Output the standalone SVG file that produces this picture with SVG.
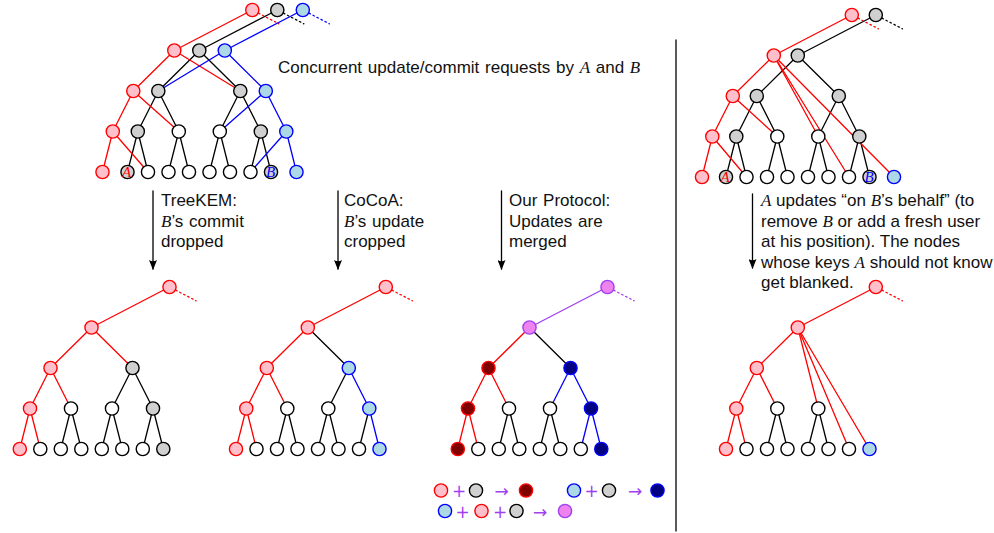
<svg xmlns="http://www.w3.org/2000/svg" width="994" height="533" viewBox="0 0 994 533">
<style>
  .e{fill:none;stroke-width:1.3;stroke-linecap:round}
  .k{stroke:#000}.r{stroke:#f00}.b{stroke:#00f}.v{stroke:#a040f0}
  .d{stroke-dasharray:1.5 3}
  circle{stroke-width:1.4}
  .pk circle{fill:#ffc0cb;stroke:#f00}
  .lb circle{fill:#add8e6;stroke:#00f}
  .gr circle{fill:#d0d0d0;stroke:#000}
  .wh circle{fill:#fff;stroke:#000}
  .dr circle{fill:#800000;stroke:#f00}
  .nv circle{fill:#000080;stroke:#00f}
  .vi circle{fill:#ee82ee;stroke:#a040f0}
  .t{font-family:"Liberation Sans",Arial,sans-serif;font-size:17px;fill:#111;word-spacing:1px}
  .t .tight{word-spacing:0}
  .m{font-family:"Liberation Serif","Times New Roman",serif;font-style:italic}
  .op{font-family:"DejaVu Sans","Liberation Sans",sans-serif;font-size:17px;fill:#a040f0;text-anchor:middle}
  .lbl{font-family:"Liberation Serif","Times New Roman",serif;font-style:italic;font-size:15px;text-anchor:middle}
</style>
<defs>
  <marker id="arr" viewBox="0 0 10 8" refX="9" refY="4" markerWidth="10" markerHeight="8" markerUnits="userSpaceOnUse" orient="auto">
    <path d="M0,0 L10,4 L0,8 Q2.5,4 0,0 z" fill="#000"/>
  </marker>
</defs>

<!-- connectors -->
<g id="connectors">
  <!-- top-left: concurrent requests -->
  <g class="e k">
    <line x1="277.3" y1="10" x2="199.3" y2="50.5"/>
    <line x1="199.3" y1="50.5" x2="158.3" y2="91"/>
    <line x1="199.3" y1="50.5" x2="240.3" y2="91"/>
    <line x1="158.3" y1="91" x2="137.8" y2="131.5"/>
    <line x1="158.3" y1="91" x2="178.8" y2="131.5"/>
    <line x1="240.3" y1="91" x2="219.8" y2="131.5"/>
    <line x1="240.3" y1="91" x2="260.8" y2="131.5"/>
    <line x1="137.8" y1="131.5" x2="127.5" y2="172"/>
    <line x1="137.8" y1="131.5" x2="148" y2="172"/>
    <line x1="178.8" y1="131.5" x2="168.5" y2="172"/>
    <line x1="178.8" y1="131.5" x2="189" y2="172"/>
    <line x1="219.8" y1="131.5" x2="209.5" y2="172"/>
    <line x1="219.8" y1="131.5" x2="230" y2="172"/>
    <line x1="260.8" y1="131.5" x2="250.5" y2="172"/>
    <line x1="260.8" y1="131.5" x2="271" y2="172"/>
    <line class="d" x1="283.5" y1="13.2" x2="303.9" y2="23.8"/>
  </g>
  <g class="e r">
    <line x1="102.5" y1="172" x2="112.8" y2="131.5"/>
    <line x1="112.8" y1="131.5" x2="148" y2="172"/>
    <line x1="112.8" y1="131.5" x2="133.3" y2="91"/>
    <line x1="133.3" y1="91" x2="178.8" y2="131.5"/>
    <line x1="133.3" y1="91" x2="174.3" y2="50.5"/>
    <line x1="174.3" y1="50.5" x2="240.3" y2="91"/>
    <line x1="174.3" y1="50.5" x2="252.3" y2="10"/>
    <line class="d" x1="258.5" y1="13.2" x2="278.9" y2="23.8"/>
  </g>
  <g class="e b">
    <line x1="296.5" y1="172" x2="286.3" y2="131.5"/>
    <line x1="286.3" y1="131.5" x2="250.5" y2="172"/>
    <line x1="286.3" y1="131.5" x2="265.8" y2="91"/>
    <line x1="265.8" y1="91" x2="219.8" y2="131.5"/>
    <line x1="265.8" y1="91" x2="224.8" y2="50.5"/>
    <line x1="224.8" y1="50.5" x2="158.3" y2="91"/>
    <line x1="224.8" y1="50.5" x2="302.8" y2="10"/>
    <line class="d" x1="309" y1="13.2" x2="329.4" y2="23.8"/>
  </g>

  <!-- top-right: update on B's behalf -->
  <g class="e k">
    <line x1="875.8" y1="15" x2="797.8" y2="55.5"/>
    <line x1="797.8" y1="55.5" x2="756.8" y2="96"/>
    <line x1="797.8" y1="55.5" x2="838.8" y2="96"/>
    <line x1="756.8" y1="96" x2="736.3" y2="136.5"/>
    <line x1="756.8" y1="96" x2="777.3" y2="136.5"/>
    <line x1="838.8" y1="96" x2="818.3" y2="136.5"/>
    <line x1="838.8" y1="96" x2="859.3" y2="136.5"/>
    <line x1="736.3" y1="136.5" x2="726" y2="177"/>
    <line x1="736.3" y1="136.5" x2="746.5" y2="177"/>
    <line x1="777.3" y1="136.5" x2="767" y2="177"/>
    <line x1="777.3" y1="136.5" x2="787.5" y2="177"/>
    <line x1="818.3" y1="136.5" x2="808" y2="177"/>
    <line x1="818.3" y1="136.5" x2="828.5" y2="177"/>
    <line x1="859.3" y1="136.5" x2="849" y2="177"/>
    <line x1="859.3" y1="136.5" x2="869.5" y2="177"/>
    <line class="d" x1="882" y1="18.2" x2="902.4" y2="28.8"/>
  </g>
  <g class="e r">
    <line x1="702" y1="177" x2="712.3" y2="136.5"/>
    <line x1="712.3" y1="136.5" x2="746.5" y2="177"/>
    <line x1="712.3" y1="136.5" x2="732.8" y2="96"/>
    <line x1="732.8" y1="96" x2="777.3" y2="136.5"/>
    <line x1="732.8" y1="96" x2="773.8" y2="55.5"/>
    <line x1="773.8" y1="55.5" x2="818.3" y2="136.5"/>
    <line x1="773.8" y1="55.5" x2="849" y2="177"/>
    <line x1="773.8" y1="55.5" x2="894" y2="177"/>
    <line x1="773.8" y1="55.5" x2="851.8" y2="15"/>
    <line class="d" x1="858" y1="18.2" x2="878.4" y2="28.8"/>
  </g>

  <!-- TreeKEM result -->
  <g class="e r">
    <line x1="169.5" y1="287" x2="91.5" y2="327.5"/>
    <line x1="91.5" y1="327.5" x2="50.5" y2="368"/>
    <line x1="91.5" y1="327.5" x2="132.5" y2="368"/>
    <line x1="50.5" y1="368" x2="30" y2="408.5"/>
    <line x1="50.5" y1="368" x2="71" y2="408.5"/>
    <line x1="30" y1="408.5" x2="19.8" y2="449"/>
    <line x1="30" y1="408.5" x2="40.3" y2="449"/>
    <line class="d" x1="175.7" y1="290.2" x2="196.1" y2="300.8"/>
  </g>
  <g class="e k">
    <line x1="71" y1="408.5" x2="60.8" y2="449"/>
    <line x1="71" y1="408.5" x2="81.3" y2="449"/>
    <line x1="132.5" y1="368" x2="112" y2="408.5"/>
    <line x1="132.5" y1="368" x2="153" y2="408.5"/>
    <line x1="112" y1="408.5" x2="101.8" y2="449"/>
    <line x1="112" y1="408.5" x2="122.3" y2="449"/>
    <line x1="153" y1="408.5" x2="142.8" y2="449"/>
    <line x1="153" y1="408.5" x2="163.3" y2="449"/>
  </g>

  <!-- CoCoA result -->
  <g class="e r">
    <line x1="385.8" y1="287" x2="307.8" y2="327.5"/>
    <line x1="307.8" y1="327.5" x2="266.8" y2="368"/>
    <line x1="266.8" y1="368" x2="246.3" y2="408.5"/>
    <line x1="266.8" y1="368" x2="287.3" y2="408.5"/>
    <line x1="246.3" y1="408.5" x2="236" y2="449"/>
    <line x1="246.3" y1="408.5" x2="256.5" y2="449"/>
    <line class="d" x1="392" y1="290.2" x2="412.4" y2="300.8"/>
  </g>
  <g class="e k">
    <line x1="307.8" y1="327.5" x2="348.8" y2="368"/>
    <line x1="287.3" y1="408.5" x2="277" y2="449"/>
    <line x1="287.3" y1="408.5" x2="297.5" y2="449"/>
    <line x1="348.8" y1="368" x2="328.3" y2="408.5"/>
    <line x1="328.3" y1="408.5" x2="318" y2="449"/>
    <line x1="328.3" y1="408.5" x2="338.5" y2="449"/>
    <line x1="369.3" y1="408.5" x2="359" y2="449"/>
  </g>
  <g class="e b">
    <line x1="348.8" y1="368" x2="369.3" y2="408.5"/>
    <line x1="369.3" y1="408.5" x2="379.5" y2="449"/>
  </g>

  <!-- merged result -->
  <g class="e v">
    <line x1="607.5" y1="287" x2="529.5" y2="327.5"/>
    <line class="d" x1="613.7" y1="290.2" x2="634.1" y2="300.8"/>
  </g>
  <g class="e r">
    <line x1="529.5" y1="327.5" x2="488.5" y2="368"/>
    <line x1="488.5" y1="368" x2="468" y2="408.5"/>
    <line x1="488.5" y1="368" x2="509" y2="408.5"/>
    <line x1="468" y1="408.5" x2="457.8" y2="449"/>
    <line x1="468" y1="408.5" x2="478.3" y2="449"/>
  </g>
  <g class="e k">
    <line x1="529.5" y1="327.5" x2="570.5" y2="368"/>
    <line x1="509" y1="408.5" x2="498.8" y2="449"/>
    <line x1="509" y1="408.5" x2="519.3" y2="449"/>
    <line x1="550" y1="408.5" x2="539.8" y2="449"/>
    <line x1="550" y1="408.5" x2="560.3" y2="449"/>
  </g>
  <g class="e b">
    <line x1="570.5" y1="368" x2="550" y2="408.5"/>
    <line x1="570.5" y1="368" x2="591" y2="408.5"/>
    <line x1="591" y1="408.5" x2="580.8" y2="449"/>
    <line x1="591" y1="408.5" x2="601.3" y2="449"/>
  </g>

  <!-- blanked result -->
  <g class="e r">
    <line x1="875.8" y1="287" x2="797.8" y2="327.5"/>
    <line x1="797.8" y1="327.5" x2="756.8" y2="368"/>
    <line x1="797.8" y1="327.5" x2="818.3" y2="408.5"/>
    <line x1="797.8" y1="327.5" x2="849" y2="449"/>
    <line x1="797.8" y1="327.5" x2="869.5" y2="449"/>
    <line x1="756.8" y1="368" x2="736.3" y2="408.5"/>
    <line x1="756.8" y1="368" x2="777.3" y2="408.5"/>
    <line x1="736.3" y1="408.5" x2="726" y2="449"/>
    <line x1="736.3" y1="408.5" x2="746.5" y2="449"/>
    <line class="d" x1="882" y1="290.2" x2="902.4" y2="300.8"/>
  </g>
  <g class="e k">
    <line x1="777.3" y1="408.5" x2="767" y2="449"/>
    <line x1="777.3" y1="408.5" x2="787.5" y2="449"/>
    <line x1="818.3" y1="408.5" x2="808" y2="449"/>
    <line x1="818.3" y1="408.5" x2="828.5" y2="449"/>
  </g>

  <!-- step arrows and divider -->
  <g class="e k" stroke-linecap="butt">
    <line x1="153" y1="191" x2="153" y2="269" marker-end="url(#arr)"/>
    <line x1="338" y1="191" x2="338" y2="269" marker-end="url(#arr)"/>
    <line x1="501.5" y1="191" x2="501.5" y2="269" marker-end="url(#arr)"/>
    <line x1="752.5" y1="194" x2="752.5" y2="268" marker-end="url(#arr)"/>
    <line x1="676" y1="40" x2="676" y2="531"/>
  </g>
</g>

<!-- nodes: top-left tree -->
<g id="tl-nodes">
  <g id="tl-root-a" class="pk"><circle cx="252.3" cy="10" r="6.6"/></g>
  <g id="tl-root" class="gr"><circle cx="277.3" cy="10" r="6.6"/></g>
  <g id="tl-root-b" class="lb"><circle cx="302.8" cy="10" r="6.6"/></g>
  <g id="tl-1-a" class="pk"><circle cx="174.3" cy="50.5" r="6.6"/></g>
  <g id="tl-1" class="gr"><circle cx="199.3" cy="50.5" r="6.6"/></g>
  <g id="tl-1-b" class="lb"><circle cx="224.8" cy="50.5" r="6.6"/></g>
  <g id="tl-2-a" class="pk"><circle cx="133.3" cy="91" r="6.6"/></g>
  <g id="tl-2l" class="gr"><circle cx="158.3" cy="91" r="6.6"/></g>
  <g id="tl-2r" class="gr"><circle cx="240.3" cy="91" r="6.6"/></g>
  <g id="tl-2-b" class="lb"><circle cx="265.8" cy="91" r="6.6"/></g>
  <g id="tl-3-a" class="pk"><circle cx="112.8" cy="131.5" r="6.6"/></g>
  <g id="tl-3-1" class="gr"><circle cx="137.8" cy="131.5" r="6.6"/></g>
  <g id="tl-3-2" class="wh"><circle cx="178.8" cy="131.5" r="6.6"/></g>
  <g id="tl-3-3" class="wh"><circle cx="219.8" cy="131.5" r="6.6"/></g>
  <g id="tl-3-4" class="gr"><circle cx="260.8" cy="131.5" r="6.6"/></g>
  <g id="tl-3-b" class="lb"><circle cx="286.3" cy="131.5" r="6.6"/></g>
  <g id="tl-leaf-a" class="pk"><circle cx="102.5" cy="172" r="6.6"/></g>
  <g id="tl-leaf-1" class="gr"><circle cx="127.5" cy="172" r="6.6"/><text class="lbl" x="126.5" y="177" fill="#f00">A</text></g>
  <g id="tl-leaf-2" class="wh"><circle cx="148" cy="172" r="6.6"/></g>
  <g id="tl-leaf-3" class="wh"><circle cx="168.5" cy="172" r="6.6"/></g>
  <g id="tl-leaf-4" class="wh"><circle cx="189" cy="172" r="6.6"/></g>
  <g id="tl-leaf-5" class="wh"><circle cx="209.5" cy="172" r="6.6"/></g>
  <g id="tl-leaf-6" class="wh"><circle cx="230" cy="172" r="6.6"/></g>
  <g id="tl-leaf-7" class="wh"><circle cx="250.5" cy="172" r="6.6"/></g>
  <g id="tl-leaf-8" class="gr"><circle cx="271" cy="172" r="6.6"/><text class="lbl" x="270.5" y="177" fill="#00f">B</text></g>
  <g id="tl-leaf-b" class="lb"><circle cx="296.5" cy="172" r="6.6"/></g>
</g>

<!-- nodes: top-right tree -->
<g id="tr-nodes">
  <g id="tr-root-a" class="pk"><circle cx="851.8" cy="15" r="6.6"/></g>
  <g id="tr-root" class="gr"><circle cx="875.8" cy="15" r="6.6"/></g>
  <g id="tr-1-a" class="pk"><circle cx="773.8" cy="55.5" r="6.6"/></g>
  <g id="tr-1" class="gr"><circle cx="797.8" cy="55.5" r="6.6"/></g>
  <g id="tr-2-a" class="pk"><circle cx="732.8" cy="96" r="6.6"/></g>
  <g id="tr-2l" class="gr"><circle cx="756.8" cy="96" r="6.6"/></g>
  <g id="tr-2r" class="gr"><circle cx="838.8" cy="96" r="6.6"/></g>
  <g id="tr-3-a" class="pk"><circle cx="712.3" cy="136.5" r="6.6"/></g>
  <g id="tr-3-1" class="gr"><circle cx="736.3" cy="136.5" r="6.6"/></g>
  <g id="tr-3-2" class="wh"><circle cx="777.3" cy="136.5" r="6.6"/></g>
  <g id="tr-3-3" class="wh"><circle cx="818.3" cy="136.5" r="6.6"/></g>
  <g id="tr-3-4" class="gr"><circle cx="859.3" cy="136.5" r="6.6"/></g>
  <g id="tr-leaf-a" class="pk"><circle cx="702" cy="177" r="6.6"/></g>
  <g id="tr-leaf-1" class="gr"><circle cx="726" cy="177" r="6.6"/><text class="lbl" x="725" y="182" fill="#f00">A</text></g>
  <g id="tr-leaf-2" class="wh"><circle cx="746.5" cy="177" r="6.6"/></g>
  <g id="tr-leaf-3" class="wh"><circle cx="767" cy="177" r="6.6"/></g>
  <g id="tr-leaf-4" class="wh"><circle cx="787.5" cy="177" r="6.6"/></g>
  <g id="tr-leaf-5" class="wh"><circle cx="808" cy="177" r="6.6"/></g>
  <g id="tr-leaf-6" class="wh"><circle cx="828.5" cy="177" r="6.6"/></g>
  <g id="tr-leaf-7" class="wh"><circle cx="849" cy="177" r="6.6"/></g>
  <g id="tr-leaf-8" class="gr"><circle cx="869.5" cy="177" r="6.6"/><text class="lbl" x="869" y="182" fill="#00f">B</text></g>
  <g id="tr-leaf-b" class="lb"><circle cx="894" cy="177" r="6.6"/></g>
</g>

<!-- nodes: TreeKEM tree -->
<g id="tk-nodes">
  <g id="tk-root" class="pk"><circle cx="169.5" cy="287" r="6.6"/></g>
  <g id="tk-1" class="pk"><circle cx="91.5" cy="327.5" r="6.6"/></g>
  <g id="tk-2l" class="pk"><circle cx="50.5" cy="368" r="6.6"/></g>
  <g id="tk-2r" class="gr"><circle cx="132.5" cy="368" r="6.6"/></g>
  <g id="tk-3-1" class="pk"><circle cx="30" cy="408.5" r="6.6"/></g>
  <g id="tk-3-2" class="wh"><circle cx="71" cy="408.5" r="6.6"/></g>
  <g id="tk-3-3" class="wh"><circle cx="112" cy="408.5" r="6.6"/></g>
  <g id="tk-3-4" class="gr"><circle cx="153" cy="408.5" r="6.6"/></g>
  <g id="tk-leaf-1" class="pk"><circle cx="19.8" cy="449" r="6.6"/></g>
  <g id="tk-leaf-2" class="wh"><circle cx="40.3" cy="449" r="6.6"/></g>
  <g id="tk-leaf-3" class="wh"><circle cx="60.8" cy="449" r="6.6"/></g>
  <g id="tk-leaf-4" class="wh"><circle cx="81.3" cy="449" r="6.6"/></g>
  <g id="tk-leaf-5" class="wh"><circle cx="101.8" cy="449" r="6.6"/></g>
  <g id="tk-leaf-6" class="wh"><circle cx="122.3" cy="449" r="6.6"/></g>
  <g id="tk-leaf-7" class="wh"><circle cx="142.8" cy="449" r="6.6"/></g>
  <g id="tk-leaf-8" class="gr"><circle cx="163.3" cy="449" r="6.6"/></g>
</g>

<!-- nodes: CoCoA tree -->
<g id="cc-nodes">
  <g id="cc-root" class="pk"><circle cx="385.8" cy="287" r="6.6"/></g>
  <g id="cc-1" class="pk"><circle cx="307.8" cy="327.5" r="6.6"/></g>
  <g id="cc-2l" class="pk"><circle cx="266.8" cy="368" r="6.6"/></g>
  <g id="cc-2r" class="lb"><circle cx="348.8" cy="368" r="6.6"/></g>
  <g id="cc-3-1" class="pk"><circle cx="246.3" cy="408.5" r="6.6"/></g>
  <g id="cc-3-2" class="wh"><circle cx="287.3" cy="408.5" r="6.6"/></g>
  <g id="cc-3-3" class="wh"><circle cx="328.3" cy="408.5" r="6.6"/></g>
  <g id="cc-3-4" class="lb"><circle cx="369.3" cy="408.5" r="6.6"/></g>
  <g id="cc-leaf-1" class="pk"><circle cx="236" cy="449" r="6.6"/></g>
  <g id="cc-leaf-2" class="wh"><circle cx="256.5" cy="449" r="6.6"/></g>
  <g id="cc-leaf-3" class="wh"><circle cx="277" cy="449" r="6.6"/></g>
  <g id="cc-leaf-4" class="wh"><circle cx="297.5" cy="449" r="6.6"/></g>
  <g id="cc-leaf-5" class="wh"><circle cx="318" cy="449" r="6.6"/></g>
  <g id="cc-leaf-6" class="wh"><circle cx="338.5" cy="449" r="6.6"/></g>
  <g id="cc-leaf-7" class="wh"><circle cx="359" cy="449" r="6.6"/></g>
  <g id="cc-leaf-8" class="lb"><circle cx="379.5" cy="449" r="6.6"/></g>
</g>

<!-- nodes: merged tree -->
<g id="mg-nodes">
  <g id="mg-root" class="vi"><circle cx="607.5" cy="287" r="6.6"/></g>
  <g id="mg-1" class="vi"><circle cx="529.5" cy="327.5" r="6.6"/></g>
  <g id="mg-2l" class="dr"><circle cx="488.5" cy="368" r="6.6"/></g>
  <g id="mg-2r" class="nv"><circle cx="570.5" cy="368" r="6.6"/></g>
  <g id="mg-3-1" class="dr"><circle cx="468" cy="408.5" r="6.6"/></g>
  <g id="mg-3-2" class="wh"><circle cx="509" cy="408.5" r="6.6"/></g>
  <g id="mg-3-3" class="wh"><circle cx="550" cy="408.5" r="6.6"/></g>
  <g id="mg-3-4" class="nv"><circle cx="591" cy="408.5" r="6.6"/></g>
  <g id="mg-leaf-1" class="dr"><circle cx="457.8" cy="449" r="6.6"/></g>
  <g id="mg-leaf-2" class="wh"><circle cx="478.3" cy="449" r="6.6"/></g>
  <g id="mg-leaf-3" class="wh"><circle cx="498.8" cy="449" r="6.6"/></g>
  <g id="mg-leaf-4" class="wh"><circle cx="519.3" cy="449" r="6.6"/></g>
  <g id="mg-leaf-5" class="wh"><circle cx="539.8" cy="449" r="6.6"/></g>
  <g id="mg-leaf-6" class="wh"><circle cx="560.3" cy="449" r="6.6"/></g>
  <g id="mg-leaf-7" class="wh"><circle cx="580.8" cy="449" r="6.6"/></g>
  <g id="mg-leaf-8" class="nv"><circle cx="601.3" cy="449" r="6.6"/></g>
</g>

<!-- nodes: blanked tree -->
<g id="bl-nodes">
  <g id="bl-root" class="pk"><circle cx="875.8" cy="287" r="6.6"/></g>
  <g id="bl-1" class="pk"><circle cx="797.8" cy="327.5" r="6.6"/></g>
  <g id="bl-2l" class="pk"><circle cx="756.8" cy="368" r="6.6"/></g>
  <g id="bl-3-1" class="pk"><circle cx="736.3" cy="408.5" r="6.6"/></g>
  <g id="bl-3-2" class="wh"><circle cx="777.3" cy="408.5" r="6.6"/></g>
  <g id="bl-3-3" class="wh"><circle cx="818.3" cy="408.5" r="6.6"/></g>
  <g id="bl-leaf-1" class="pk"><circle cx="726" cy="449" r="6.6"/></g>
  <g id="bl-leaf-2" class="wh"><circle cx="746.5" cy="449" r="6.6"/></g>
  <g id="bl-leaf-3" class="wh"><circle cx="767" cy="449" r="6.6"/></g>
  <g id="bl-leaf-4" class="wh"><circle cx="787.5" cy="449" r="6.6"/></g>
  <g id="bl-leaf-5" class="wh"><circle cx="808" cy="449" r="6.6"/></g>
  <g id="bl-leaf-6" class="wh"><circle cx="828.5" cy="449" r="6.6"/></g>
  <g id="bl-leaf-7" class="wh"><circle cx="849" cy="449" r="6.6"/></g>
  <g id="bl-leaf-8" class="lb"><circle cx="869.5" cy="449" r="6.6"/></g>
</g>

<!-- merge rules -->
<g id="legend">
  <g id="lg-1a" class="pk"><circle cx="441" cy="490.5" r="6.6"/></g>
  <text class="op" x="459" y="496.5">+</text>
  <g id="lg-1b" class="gr"><circle cx="476" cy="490.5" r="6.6"/></g>
  <text class="op" x="501.5" y="496.5">→</text>
  <g id="lg-1c" class="dr"><circle cx="526" cy="490.5" r="6.6"/></g>
  <g id="lg-2a" class="lb"><circle cx="574" cy="490.5" r="6.6"/></g>
  <text class="op" x="591.5" y="496.5">+</text>
  <g id="lg-2b" class="gr"><circle cx="609" cy="490.5" r="6.6"/></g>
  <text class="op" x="635" y="496.5">→</text>
  <g id="lg-2c" class="nv"><circle cx="657.5" cy="490.5" r="6.6"/></g>
  <g id="lg-3a" class="lb"><circle cx="445" cy="511" r="6.6"/></g>
  <text class="op" x="462.5" y="517.5">+</text>
  <g id="lg-3b" class="pk"><circle cx="481.5" cy="511" r="6.6"/></g>
  <text class="op" x="500" y="517.5">+</text>
  <g id="lg-3c" class="gr"><circle cx="516.5" cy="511" r="6.6"/></g>
  <text class="op" x="540" y="517.5">→</text>
  <g id="lg-3d" class="vi"><circle cx="565" cy="511" r="6.6"/></g>
</g>

<!-- captions -->
<g id="captions" class="t">
  <text x="278" y="73">Concurrent update/commit requests by <tspan class="m">A</tspan> and <tspan class="m">B</tspan></text>
  <text x="161" y="206">TreeKEM:</text>
  <text x="161" y="226.5"><tspan class="m">B</tspan>’s commit</text>
  <text x="161" y="247">dropped</text>
  <text x="344" y="206">CoCoA:</text>
  <text x="344" y="226.5"><tspan class="m">B</tspan>’s update</text>
  <text x="344" y="247">cropped</text>
  <text x="509" y="206">Our Protocol:</text>
  <text x="509" y="226.5">Updates are</text>
  <text x="509" y="247">merged</text>
  <text x="761" y="206" class="tight"><tspan class="m">A</tspan> updates “on <tspan class="m">B</tspan>’s behalf” (to</text>
  <text x="761" y="226.5" class="tight">remove <tspan class="m">B</tspan> or add a fresh user</text>
  <text x="761" y="247" class="tight">at his position). The nodes</text>
  <text x="761" y="267.5" class="tight">whose keys <tspan class="m">A</tspan> should not know</text>
  <text x="761" y="288" class="tight">get blanked.</text>
</g>
</svg>
